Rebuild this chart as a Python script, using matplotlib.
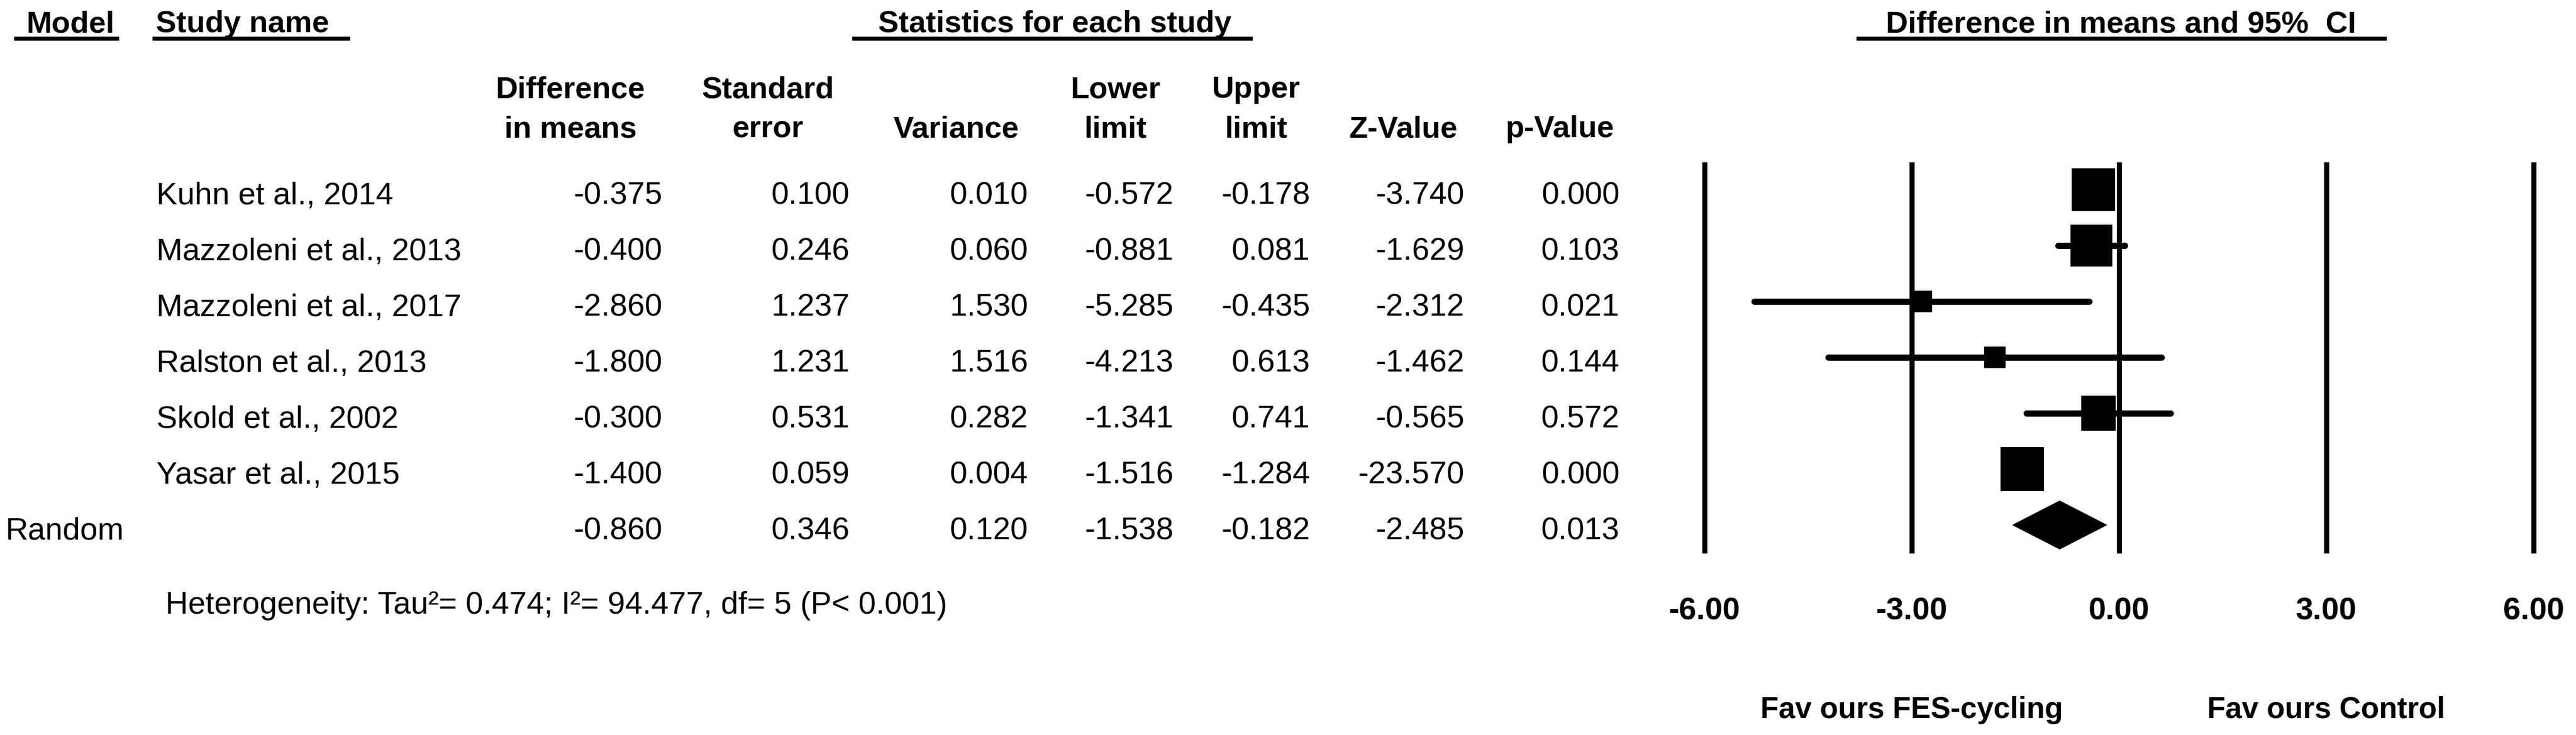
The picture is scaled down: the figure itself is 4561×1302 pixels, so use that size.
#!/usr/bin/env python3
"""
Forest plot (random effects): FES-cycling vs control, difference in means and 95% CI.
Left side: table of per-study statistics; right side: boxes + CI lines and pooled diamond.
"""
import matplotlib

matplotlib.use("Agg")
import matplotlib.pyplot as plt
import matplotlib.transforms as mtransforms
from matplotlib.lines import Line2D
from matplotlib.patches import Polygon

# --- data ---
studies = [
    "Kuhn et al., 2014",
    "Mazzoleni et al., 2013",
    "Mazzoleni et al., 2017",
    "Ralston et al., 2013",
    "Skold et al., 2002",
    "Yasar et al., 2015",
]
diff_means = [-0.375, -0.400, -2.860, -1.800, -0.300, -1.400]
std_err = [0.100, 0.246, 1.237, 1.231, 0.531, 0.059]
variance = [0.010, 0.060, 1.530, 1.516, 0.282, 0.004]
lower_limit = [-0.572, -0.881, -5.285, -4.213, -1.341, -1.516]
upper_limit = [-0.178, 0.081, -0.435, 0.613, 0.741, -1.284]
z_value = [-3.740, -1.629, -2.312, -1.462, -0.565, -23.570]
p_value = [0.000, 0.103, 0.021, 0.144, 0.572, 0.000]

model_label = "Random"
pooled_stats = [-0.860, 0.346, 0.120, -1.538, -0.182, -2.485, 0.013]

tau2 = 0.474
i2 = 94.477
df_het = 5
axis_ticks = [-6.0, -3.0, 0.0, 3.0, 6.0]

# --- layout (pixels of the 4561x1302 image) ---
W, H = 4561, 1302
ZERO_PX, UNIT_PX = 3752, 122.3
ROW0_PX, ROW_PX = 336, 99
AX_LEFT, AX_TOP, AX_BOTTOM = 2900, 250, 1150
FS = 40
FS_B = 39

plt.rcParams["font.family"] = ["Liberation Sans", "DejaVu Sans"]

fig = plt.figure(figsize=(W / 100, H / 100), dpi=100)
ax = fig.add_axes([AX_LEFT / W, 1 - AX_BOTTOM / H, (W - AX_LEFT) / W, (AX_BOTTOM - AX_TOP) / H])
ax.set_xlim((AX_LEFT - ZERO_PX) / UNIT_PX, (W - ZERO_PX) / UNIT_PX)
ax.set_ylim((AX_BOTTOM - ROW0_PX) / ROW_PX, (AX_TOP - ROW0_PX) / ROW_PX)
ax.axis("off")

n = len(studies)
rows = list(range(n))

# vertical reference lines
for t in axis_ticks:
    ax.vlines(t, -0.5, n + 0.5, color="black", lw=6.5, clip_on=False)
    ax.text(t, 7.69, f"{t:.2f}", ha="center", va="baseline", fontsize=FS, fontweight="bold")

# CI lines and weighted boxes (random-effects weights)
weights = [1 / (v + tau2) for v in variance]
ax.hlines(rows, lower_limit, upper_limit, color="black", lw=8, capstyle="round")
ax.scatter(diff_means, rows, s=[1484 * w for w in weights], marker="s", color="black",
           linewidths=0, zorder=3)

# pooled diamond
pd, _, _, pl, pu = pooled_stats[:5]
ax.add_patch(Polygon([(pl, n), (pd, n - 0.43), (pu, n), (pd, n + 0.43)], closed=True,
                     facecolor="black", edgecolor="black", lw=1))

ax.text(-3, 9.45, "Fav ours FES-cycling", ha="center", va="baseline", fontsize=38,
        fontweight="bold")
ax.text(3, 9.45, "Fav ours Control", ha="center", va="baseline", fontsize=38,
        fontweight="bold")

# --- table on the left ---
row_tr = mtransforms.blended_transform_factory(fig.transFigure, ax.transData)


def fx(px):
    return px / W


def fy(px):
    return 1 - px / H


columns = [diff_means, std_err, variance, lower_limit, upper_limit, z_value, p_value]
col_right = [1173, 1505, 1821, 2078, 2320, 2593, 2868]
col_center = [1010, 1360, 1693, 1975, 2224, 2485, 2762]
col_head = [
    ("Difference", "in means"),
    ("Standard", "error"),
    ("", "Variance"),
    ("Lower", "limit"),
    ("Upper", "limit"),
    ("", "Z-Value"),
    ("", "p-Value"),
]

for i, name in enumerate(studies):
    ax_y = i + 0.26
    fig.text(fx(277), ax_y, name, transform=row_tr, ha="left", va="baseline", fontsize=FS)
    for col, xr in zip(columns, col_right):
        fig.text(fx(xr), ax_y, f"{col[i]:.3f}", transform=row_tr, ha="right",
                 va="baseline", fontsize=FS)

fig.text(fx(10), n + 0.26, model_label, transform=row_tr, ha="left", va="baseline", fontsize=FS)
for v, xr in zip(pooled_stats, col_right):
    fig.text(fx(xr), n + 0.26, f"{v:.3f}", transform=row_tr, ha="right", va="baseline",
             fontsize=FS)

fig.text(fx(293), 7.59,
         f"Heterogeneity: Tau\u00b2= {tau2:.3f}; I\u00b2= {i2:.3f}, df= {df_het} (P< 0.001)",
         transform=row_tr, ha="left", va="baseline", fontsize=FS)

# column headers
for (l1, l2), xc in zip(col_head, col_center):
    if l1:
        fig.text(fx(xc), fy(173), l1, ha="center", va="baseline", fontsize=FS_B, fontweight="bold")
    fig.text(fx(xc), fy(243), l2, ha="center", va="baseline", fontsize=FS_B, fontweight="bold")

# top headers with underlines
top_heads = [
    ("Model", 46, "left", 28, 207),
    ("Study name", 276, "left", 273, 616),
    ("Statistics for each study", 1868, "center", 1512, 2214),
    ("Difference in means and 95%  CI", 3755, "center", 3290, 4222),
]
for label, x, ha, u0, u1 in top_heads:
    fig.text(fx(x), fy(57), label, ha=ha, va="baseline", fontsize=FS_B, fontweight="bold")
    fig.add_artist(Line2D([fx(u0), fx(u1)], [fy(68), fy(68)], color="black", lw=5,
                          transform=fig.transFigure))

fig.savefig("out.png", dpi=100)
plt.close(fig)
